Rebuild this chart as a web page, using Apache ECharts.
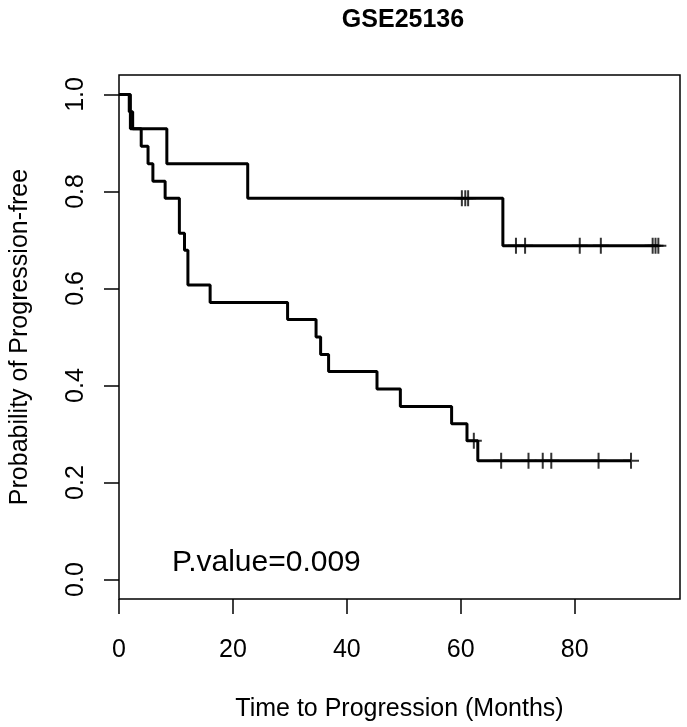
<!DOCTYPE html>
<html>
<head>
<meta charset="utf-8">
<script src="https://cdn.jsdelivr.net/npm/echarts@6/dist/echarts.min.js"></script>
<style>
  html, body { margin: 0; padding: 0; background: #fff; }
  #main { width: 687px; height: 727px; }
</style>
</head>
<body>
<div id="main"></div>
<script>
// 上方曲线 (组1)
const group1Times = [0, 2.0, 8.4, 22.6, 67.4, 94.7]
const group1Surv = [1, 0.929, 0.857, 0.786, 0.688, 0.688]
const group1CensorTimes = [60.2, 60.8, 61.3, 69.7, 71.3, 80.9, 84.6, 93.7, 94.2, 94.7]
const group1CensorSurv = [0.786, 0.786, 0.786, 0.688, 0.688, 0.688, 0.688, 0.688, 0.688, 0.688]

// 下方曲线 (组2)
const group2Times = [0, 1.8, 2.4, 3.9, 5.1, 5.95, 8.1, 10.6, 11.5, 12.1, 16.0, 29.6, 34.6, 35.4, 36.8, 45.3, 49.4, 58.4, 61.1, 63.0, 89.9]
const group2Surv = [1, 0.964, 0.929, 0.893, 0.857, 0.821, 0.786, 0.714, 0.679, 0.607, 0.571, 0.536, 0.5, 0.464, 0.429, 0.393, 0.357, 0.321, 0.286, 0.245, 0.245]
const group2CensorTimes = [62.3, 67.1, 71.9, 74.4, 75.9, 84.2, 89.9]
const group2CensorSurv = [0.286, 0.245, 0.245, 0.245, 0.245, 0.245, 0.245]

const xTicks = [0, 20, 40, 60, 80]
const yTicks = [0, 0.2, 0.4, 0.6, 0.8, 1.0]

const titleText = 'GSE25136'
const pValueText = 'P.value=0.009'

const FONT = '"Liberation Sans", Arial, sans-serif'
// 删失标记 "+"
const plusPath = 'path://M7,0H9V16H7ZM0,7H16V9H0Z'

function zip(a, b) {
  return a.map((v, i) => [v, b[i]])
}

const chart = echarts.init(document.getElementById('main'), null, {renderer: 'canvas'})

chart.setOption({
  backgroundColor: '#fff',
  animation: false,
  title: {
    text: titleText,
    left: 398,
    top: 3,
    textAlign: 'center',
    textStyle: {fontFamily: FONT, fontSize: 25, fontWeight: 'bold', color: '#000'}
  },
  grid: {
    left: 117,
    right: 7,
    top: 75,
    bottom: 128,
    show: true,
    borderColor: '#000',
    borderWidth: 1.5,
    backgroundColor: 'transparent'
  },
  xAxis: {
    type: 'value',
    min: 0,
    max: 98.5,
    name: 'Time to Progression (Months)',
    nameLocation: 'middle',
    nameGap: 98,
    nameTextStyle: {fontFamily: FONT, fontSize: 25, color: '#000'},
    axisLine: {show: false, onZero: false},
    splitLine: {show: false},
    axisTick: {
      show: true,
      inside: false,
      length: 15,
      customValues: xTicks,
      lineStyle: {color: '#000', width: 1.5}
    },
    axisLabel: {
      customValues: xTicks,
      margin: 39,
      fontFamily: FONT,
      fontSize: 25,
      color: '#000'
    }
  },
  yAxis: {
    type: 'value',
    min: -0.04,
    max: 1.04,
    name: 'Probability of Progression-free',
    nameLocation: 'middle',
    nameRotate: 90,
    nameGap: 86,
    nameTextStyle: {fontFamily: FONT, fontSize: 25, color: '#000'},
    axisLine: {show: false, onZero: false},
    splitLine: {show: false},
    axisTick: {
      show: true,
      inside: false,
      length: 15,
      customValues: yTicks,
      lineStyle: {color: '#000', width: 1.5}
    },
    axisLabel: {
      customValues: yTicks,
      rotate: 90,
      margin: 30,
      fontFamily: FONT,
      fontSize: 25,
      color: '#000',
      formatter: v => v.toFixed(1)
    }
  },
  graphic: [{
    type: 'text',
    left: 172,
    top: 548,
    style: {text: pValueText, font: '30px ' + FONT, fill: '#000'}
  }],
  series: [
    {
      type: 'line',
      step: 'end',
      data: zip(group1Times, group1Surv),
      showSymbol: false,
      lineStyle: {color: '#000', width: 3},
      z: 3
    },
    {
      type: 'line',
      step: 'end',
      data: zip(group2Times, group2Surv),
      showSymbol: false,
      lineStyle: {color: '#000', width: 3},
      z: 3
    },
    {
      type: 'scatter',
      data: zip(group1CensorTimes, group1CensorSurv),
      symbol: plusPath,
      symbolSize: 16,
      itemStyle: {color: '#000'},
      z: 4
    },
    {
      type: 'scatter',
      data: zip(group2CensorTimes, group2CensorSurv),
      symbol: plusPath,
      symbolSize: 16,
      itemStyle: {color: '#000'},
      z: 4
    }
  ]
})
</script>
</body>
</html>
